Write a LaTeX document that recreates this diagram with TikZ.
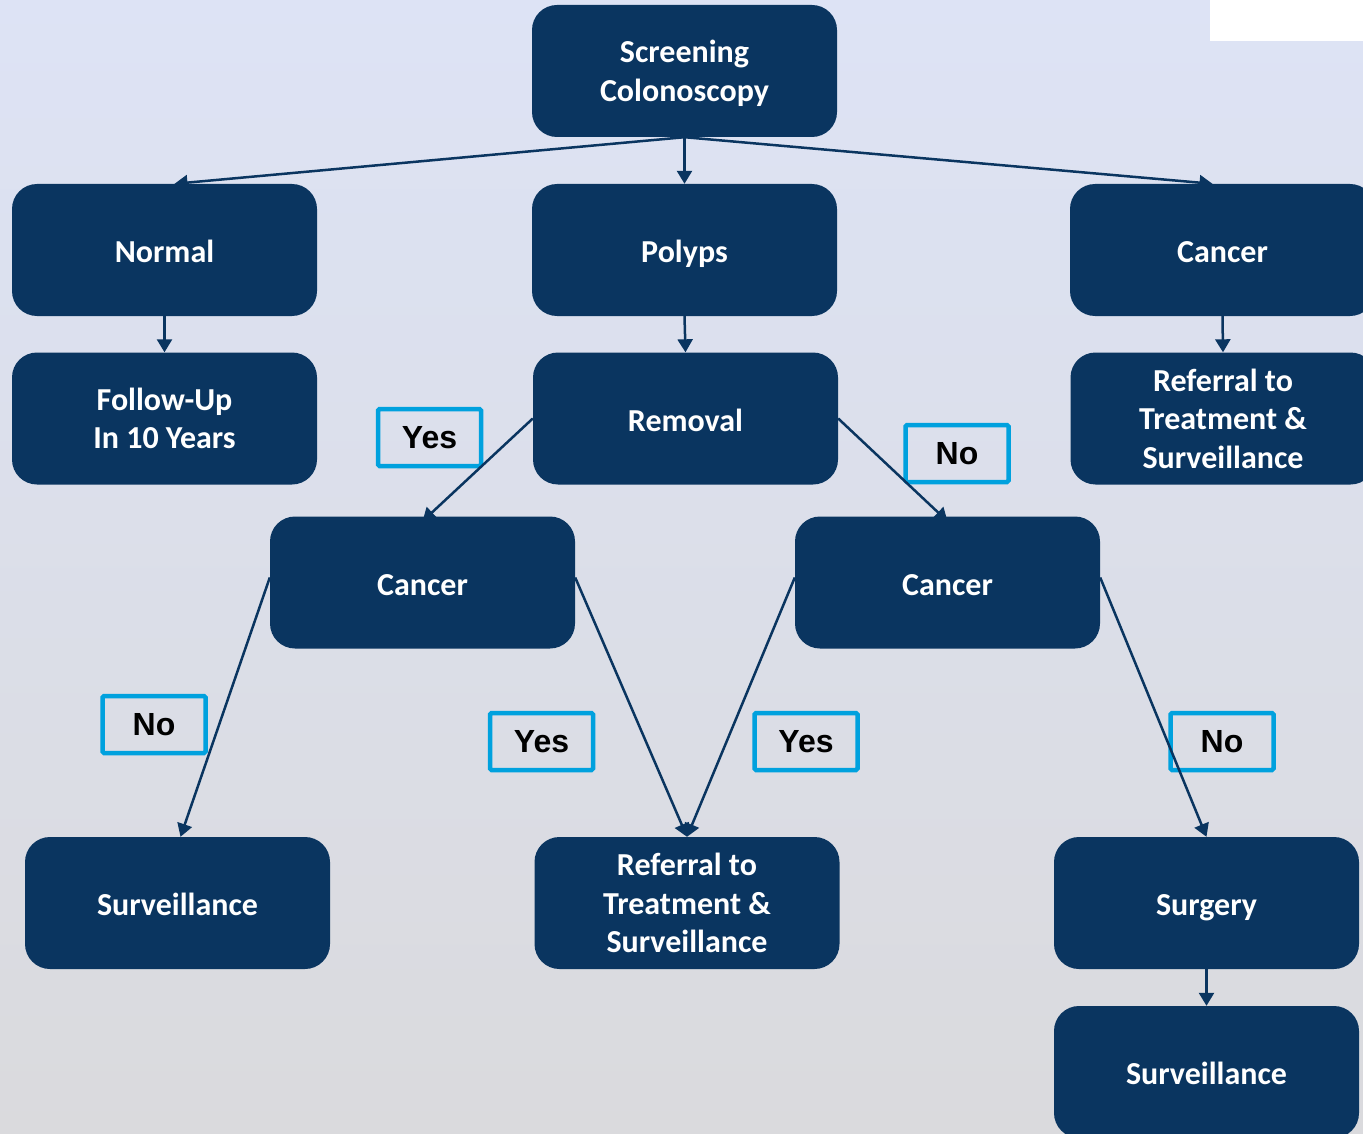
\documentclass[tikz,border=0pt]{standalone}
\usepackage{fontspec}
\setmainfont{Carlito}
\newfontfamily\labelfont{Liberation Sans}
\usepackage{tikz}
\usetikzlibrary{arrows.meta}
\definecolor{navy}{RGB}{10,53,96}
\definecolor{cyanline}{RGB}{0,161,222}
\definecolor{bgtop}{RGB}{221,227,245}
\definecolor{bgbottom}{RGB}{218,218,221}
\tikzset{
  stepbox/.style={draw=none, fill=navy, rounded corners=25pt, minimum width=305pt,
    minimum height=132pt, text=white, align=center,
    font=\fontsize{32}{38.5}\selectfont\bfseries},
  oneline/.style={text height=26pt, text depth=1pt},
  answer/.style={draw=cyanline, line width=4.5pt, rounded corners=1.5pt, minimum width=103pt,
    minimum height=57pt, inner sep=0pt, font=\labelfont\fontsize{32}{36}\selectfont\bfseries},
  flow/.style={draw=navy, line width=2.5pt, -{Triangle[length=13pt,width=15pt]}}
}
\begin{document}
\begin{tikzpicture}[x=1pt,y=-1pt]
		% background
		\shade[top color=bgtop, bottom color=bgbottom] (0,0) rectangle (1363,1134);
		\useasboundingbox (0,0) rectangle (1363,1134);
		\fill[white] (1210,0) rectangle (1363,41);
		
		% draw boxes
		\node[stepbox, text depth=0pt] (screen) at (684.5,71) {Screening\\Colonoscopy};
		\node[stepbox, oneline] (normal) at (164.5,250) {Normal};
		\node[stepbox, oneline] (polyps) at (684.5,250) {Polyps};
		\node[stepbox, oneline] (cancer) at (1222.5,250) {Cancer};
		\node[stepbox] (followup) at (164.5,418.5) {Follow-Up\\In 10 Years};
		\node[stepbox, oneline] (removal) at (685.5,418.5) {Removal};
		\node[stepbox] (refer) at (1223,418.5) {Referral to\\Treatment \&\\Surveillance};
		\node[stepbox, oneline] (cancerA) at (422.5,582.5) {Cancer};
		\node[stepbox, oneline] (cancerB) at (947.5,582.5) {Cancer};
		\node[stepbox, oneline] (survA) at (177.5,903) {Surveillance};
		\node[stepbox] (referB) at (687,903) {Referral to\\Treatment \&\\Surveillance};
		\node[stepbox, oneline] (surgery) at (1206.5,903) {Surgery};
		\node[stepbox, oneline] (survB) at (1206.5,1072) {Surveillance};
		
		% draw answers
		\node[answer] (yesA) at (429.5,437.5) {Yes};
		\node[answer] (noA) at (957,453.5) {No};
		\node[answer] (noB) at (154,724.5) {No};
		\node[answer] (yesB) at (541.5,741.5) {Yes};
		\node[answer] (yesC) at (806,741.5) {Yes};
		\node[answer] (noC) at (1222,741.5) {No};
		
		% draw arrows
		\draw[flow] (screen.south) -- ([xshift=10pt]normal.north);
		\draw[flow] (screen.south) -- (polyps.north);
		\draw[flow] (screen.south) -- ([xshift=-10pt]cancer.north);
		\draw[flow] (normal.south) -- (followup.north);
		\draw[flow] (polyps.south) -- (removal.north);
		\draw[flow] (cancer.south) -- (refer.north);
		\draw[flow] (removal.west) -- ([yshift=-5pt]cancerA.north);
		\draw[flow] (removal.east) -- ([yshift=-5pt]cancerB.north);
		\draw[flow] ([yshift=5pt]cancerA.west) -- ([xshift=3pt]survA.north);
		\draw[flow] ([yshift=5pt]cancerA.east) -- (referB.north);
		\draw[flow] ([yshift=5pt]cancerB.west) -- (referB.north);
		\draw[flow] ([yshift=5pt]cancerB.east) -- (surgery.north);
		\draw[flow] (surgery.south) -- (survB.north);
		\end{tikzpicture}
\end{document}
